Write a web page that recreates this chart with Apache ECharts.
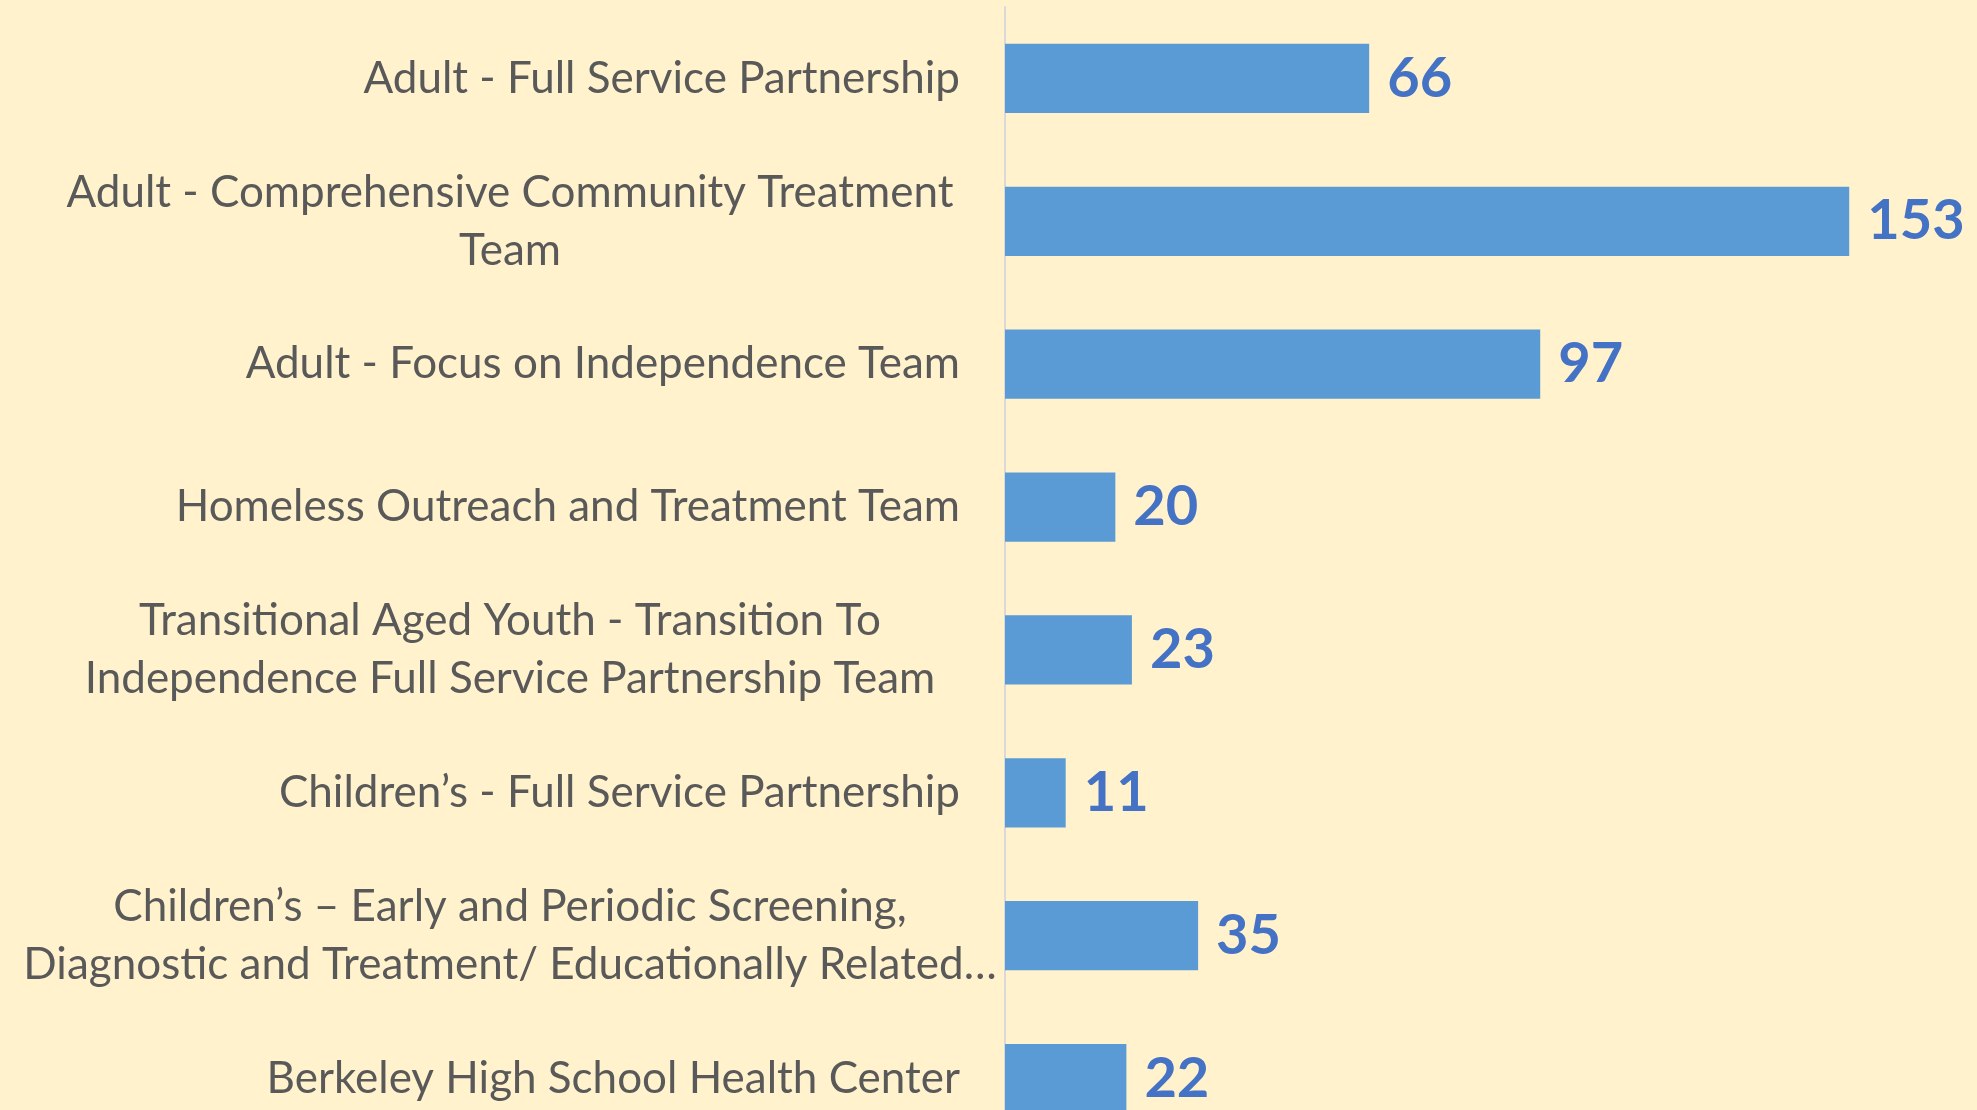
<!DOCTYPE html>
<html>
<head>
<meta charset="utf-8">
<script src="https://cdn.jsdelivr.net/npm/echarts@6/dist/echarts.min.js"></script>
<style>
html, body { margin: 0; padding: 0; background: #FFF2CC; overflow: hidden; }
#chart { width: 1977px; height: 1110px; }
</style>
</head>
<body>
<div id="chart"></div>
<script>
var categories = [
  'Adult - Full Service Partnership',
  'Adult - Comprehensive Community Treatment\nTeam',
  'Adult - Focus on Independence Team',
  'Homeless Outreach and Treatment Team',
  'Transitional Aged Youth - Transition To\nIndependence Full Service Partnership Team',
  'Children\u2019s - Full Service Partnership',
  'Children\u2019s \u2013 Early and Periodic Screening,\nDiagnostic and Treatment/ Educationally Related\u2026',
  'Berkeley High School Health Center'
];
var values = [66, 153, 97, 20, 23, 11, 35, 22];

var chart = echarts.init(document.getElementById('chart'), null, { renderer: 'canvas' });
var labelFont = 'Lato';
chart.setOption({
  backgroundColor: '#FFF2CC',
  animation: false,
  grid: { left: 1005, right: 34, top: 7, height: 1143, containLabel: false, outerBoundsMode: 'none' },
  xAxis: {
    type: 'value', min: 0, max: 170,
    axisLine: { show: false }, axisTick: { show: false },
    axisLabel: { show: false }, splitLine: { show: false }
  },
  yAxis: {
    type: 'category', inverse: true, data: categories,
    axisLine: { show: true, lineStyle: { color: '#D9D9D9', width: 2 } },
    axisTick: { show: false },
    splitLine: { show: false },
    axisLabel: {
      margin: 45,
      width: 900,
      formatter: function (v) {
        var lines = v.split('\n');
        if (lines.length === 1) return '{r|' + lines[0] + '}';
        return lines.map(function (l) { return '{c|' + l + '}'; }).join('\n');
      },
      rich: {
        r: { align: 'right', fontFamily: labelFont, fontSize: 44, color: '#595959', lineHeight: 58 },
        c: { align: 'center', fontFamily: labelFont, fontSize: 44, color: '#595959', lineHeight: 58 }
      }
    }
  },
  series: [{
    type: 'bar',
    data: values,
    barCategoryGap: '51.5%',
    itemStyle: { color: '#5B9BD5' },
    label: {
      show: true, position: 'right', distance: 18,
      fontFamily: labelFont, fontWeight: 'bold', fontSize: 56, color: '#4472C4'
    }
  }]
});
</script>
</body>
</html>
